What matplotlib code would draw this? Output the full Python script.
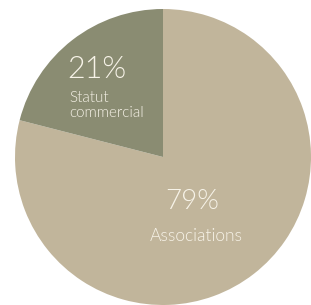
import matplotlib
matplotlib.use("Agg")
import matplotlib.pyplot as plt

labels = ["Associations", "Statut\ncommercial"]
values = [79, 21]
pct_labels = ["79%", "21%"]
colors = ["#c1b59b", "#8a8c72"]
text_color = "#f7f3e8"

W, H = 311, 305
fig = plt.figure(figsize=(W / 100, H / 100), dpi=100)
ax = fig.add_axes([0, 0, 1, 1])
cx, cy, r = 163, 157, 148

ax.pie(values, colors=colors, startangle=90, counterclock=False,
       radius=1, center=(0, 0), frame=True,
       wedgeprops=dict(linewidth=0))
ax.set_xlim(-cx / r, (W - cx) / r)
ax.set_ylim(-(H - cy) / r, cy / r)
ax.axis("off")

def d(px, py):
    return ((px - cx) / r, (cy - py) / r)

font = dict(family=["Lato", "DejaVu Sans"], color=text_color, fontweight=300)
ax.text(*d(67, 78), pct_labels[1], fontsize=22, ha="left", va="baseline", **font)
ax.text(*d(69, 102), labels[1].split("\n")[0], fontsize=11, ha="left", va="baseline", **font)
ax.text(*d(69, 117), labels[1].split("\n")[1], fontsize=11, ha="left", va="baseline", **font)
ax.text(*d(192, 209), pct_labels[0], fontsize=20, ha="center", va="baseline", **font)
ax.text(*d(196, 241), labels[0], fontsize=12.5, ha="center", va="baseline", **font)

fig.savefig("out.png", dpi=100)
